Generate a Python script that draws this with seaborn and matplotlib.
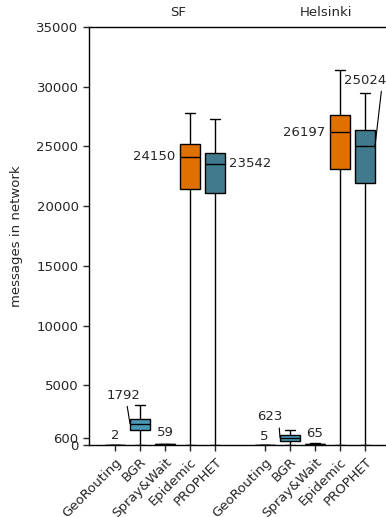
import numpy as np
import pandas as pd
import matplotlib
matplotlib.use("Agg")
import matplotlib.pyplot as plt
import matplotlib.transforms as mtransforms
import seaborn as sns

# ── Data (five-number summaries) ────────────────────────────────────────
cities = ["SF", "Helsinki"]
protocols = ["GeoRouting", "BGR", "Spray&Wait", "Epidemic", "PROPHET"]

sf_low = [0, 0, 0, 0, 0]
sf_q1 = [1, 1225, 40, 21440, 21060]
sf_median = [2, 1792, 59, 24150, 23542]
sf_q3 = [3, 2140, 80, 25190, 24420]
sf_high = [5, 3310, 120, 27830, 27270]

hel_low = [0, 0, 0, 0, 0]
hel_q1 = [3, 308, 45, 23140, 21940]
hel_median = [5, 623, 65, 26197, 25024]
hel_q3 = [7, 833, 85, 27640, 26390]
hel_high = [10, 1250, 130, 31440, 29500]

y_ticks = [0, 600, 5000, 10000, 15000, 20000, 25000, 30000, 35000]

colors = {
    "GeoRouting": "#8c8c8c",
    "BGR": "#4a9ab8",
    "Spray&Wait": "#3a3a3a",
    "Epidemic": "#e07000",
    "PROPHET": "#417a8c",
}

# ── Build long-form table: one slot per city/protocol, empty slot between ─
stats = {
    "SF": (sf_low, sf_q1, sf_median, sf_q3, sf_high),
    "Helsinki": (hel_low, hel_q1, hel_median, hel_q3, hel_high),
}
rows = []
order = []
palette = {}
for ci, city in enumerate(cities):
    if ci > 0:
        order.append("gap")
    for pi, proto in enumerate(protocols):
        key = f"{city}|{proto}"
        order.append(key)
        palette[key] = colors[proto]
        for arr in stats[city]:
            rows.append({"key": key, "value": arr[pi]})
df = pd.DataFrame(rows)

# ── Plot ────────────────────────────────────────────────────────────────
sns.set_style("ticks")
plt.rcParams["font.family"] = ["DejaVu Sans"]

fig = plt.figure(figsize=(3.86, 5.17), dpi=100)
ax = fig.add_axes([89 / 386, 72 / 517, 301 / 386, 418 / 517])

sns.boxplot(
    data=df, x="key", y="value", order=order, hue="key", palette=palette,
    saturation=1, whis=(0, 100), width=0.8, linecolor="black", linewidth=1.0,
    legend=False, ax=ax, showfliers=False,
)

ax.set_xlim(-1.04, 11.0)
ax.set_ylim(0, 35000)
ax.set_yticks(y_ticks)
ax.set_yticklabels([str(t) for t in y_ticks], fontsize=9.5)

tick_pos = [order.index(k) for k in order if k != "gap"]
ax.set_xticks(tick_pos)
ax.set_xticklabels(
    [k.split("|")[1] for k in order if k != "gap"],
    rotation=45, ha="right", rotation_mode="anchor", fontsize=9.5,
)
ax.tick_params(axis="both", length=4.5, width=1, direction="out", pad=3)
ax.set_xlabel("")
ax.set_ylabel("messages in network", fontsize=9.5, labelpad=10)
for s in ax.spines.values():
    s.set_linewidth(1.0)
    s.set_color("black")

# city titles above the plot
trans = mtransforms.blended_transform_factory(ax.transData, ax.transAxes)
ax.text(2.52, 1.034, "SF", transform=trans, ha="center", va="center", fontsize=9.5)
ax.text(8.44, 1.034, "Helsinki", transform=trans, ha="center", va="center", fontsize=9.5)

# ── Median labels ───────────────────────────────────────────────────────
# (city, protocol): (text x offset, text y, ha, line target x offset, relpos)
label_layout = {
    ("SF", "GeoRouting"): (0.0, 830, "center", None, None),
    ("SF", "BGR"): (-0.65, 4170, "center", -0.4, (0.58, 0)),
    ("SF", "Spray&Wait"): (0.0, 1030, "center", None, None),
    ("SF", "Epidemic"): (-0.6, None, "right", None, None),
    ("SF", "PROPHET"): (0.55, None, "left", None, None),
    ("Helsinki", "GeoRouting"): (-0.05, 750, "center", None, None),
    ("Helsinki", "BGR"): (-0.8, 2360, "center", -0.4, (0.85, 0)),
    ("Helsinki", "Spray&Wait"): (0.0, 970, "center", None, None),
    ("Helsinki", "Epidemic"): (-0.6, None, "right", None, None),
    ("Helsinki", "PROPHET"): (0.0, 30560, "center", 0.4, (0.9, 0)),
}
for city in cities:
    med = stats[city][2]
    for pi, proto in enumerate(protocols):
        x = order.index(f"{city}|{proto}")
        dx, ty, ha, lx, relpos = label_layout[(city, proto)]
        ty = med[pi] if ty is None else ty
        if lx is None:
            ax.text(x + dx, ty, str(med[pi]), ha=ha, va="center", fontsize=9.5)
        else:
            ax.annotate(
                str(med[pi]), xy=(x + lx, med[pi]), xytext=(x + dx, ty),
                ha=ha, va="center", fontsize=9.5,
                arrowprops=dict(arrowstyle="-", color="black", lw=0.8,
                                shrinkA=1, shrinkB=0, relpos=relpos),
            )

fig.savefig("out.png", dpi=100)
